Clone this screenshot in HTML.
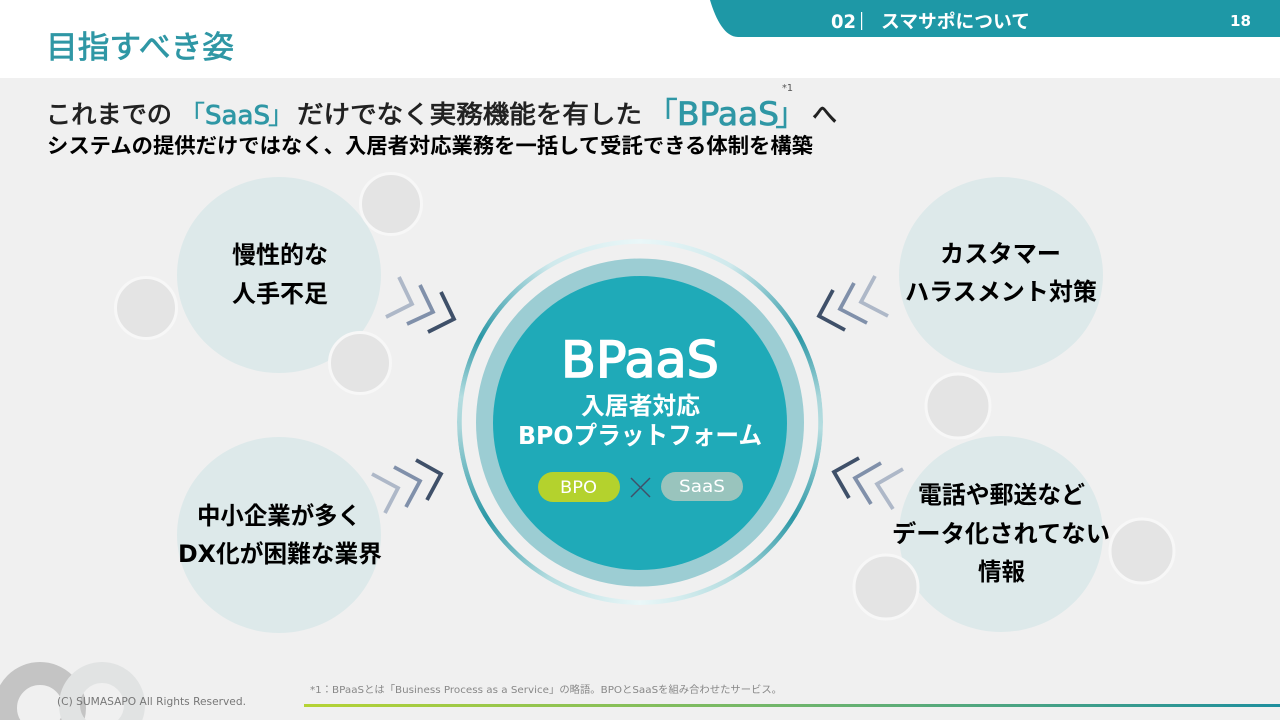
<!DOCTYPE html>
<html lang="ja"><head><meta charset="utf-8"><title>目指すべき姿</title>
<style>
html,body{margin:0;padding:0;width:1280px;height:720px;overflow:hidden;background:#f0f0f0}
#ring{position:absolute;left:457px;top:239px;width:366px;height:366px;border-radius:50%;
background:conic-gradient(from 0deg,#eaf7f8 0deg,#cfe9ec 30deg,#2c98a6 62deg,#a9d6da 82deg,#b5dde0 92deg,#2c98a6 122deg,#b5dde0 150deg,#eaf7f8 180deg,#b5dde0 210deg,#2c98a6 238deg,#a9d6da 268deg,#b5dde0 278deg,#2c98a6 298deg,#cfe9ec 330deg,#eaf7f8 360deg);
-webkit-mask:radial-gradient(circle,transparent 178px,#000 178.5px);mask:radial-gradient(circle,transparent 178px,#000 178.5px)}
svg{position:absolute;left:0;top:0}
text{font-family:"DejaVu Sans","Noto Sans CJK JP",sans-serif}
.b{font-weight:700;fill:#000;font-size:24px}
.w{font-weight:700;fill:#fff}
.t{fill:#2f97a5;stroke:#2f97a5;stroke-width:.8px}
.k{fill:#222;stroke:#222;stroke-width:.8px}
</style></head><body>
<svg width="1280" height="720" viewBox="0 0 1280 720">
<defs><linearGradient id="fl" x1="0" x2="1" y1="0" y2="0"><stop offset="0" stop-color="#b5d334"/><stop offset=".5" stop-color="#6fb56c"/><stop offset="1" stop-color="#1e8f9e"/></linearGradient></defs>
<rect width="1280" height="78" fill="#fff"/>
<path d="M710 0C716 20 725 37 738 37L1280 37L1280 0Z" fill="#1e98a6"/>
<text x="831" y="28" class="w" font-size="19" textLength="25" lengthAdjust="spacingAndGlyphs">02</text>
<rect x="861" y="12" width="1.2" height="18" fill="#fff"/>
<text x="881" y="28" class="w" font-size="18.5" textLength="149" lengthAdjust="spacingAndGlyphs">スマサポについて</text>
<text x="1230" y="26" class="w" font-size="15" textLength="21" lengthAdjust="spacingAndGlyphs">18</text>
<text x="46" y="58" class="t" font-size="31" textLength="188" lengthAdjust="spacingAndGlyphs">目指すべき姿</text>

<text x="782" y="91" font-size="9.5" fill="#555" textLength="11" lengthAdjust="spacingAndGlyphs">*1</text>
<text x="46" y="123" class="k" font-size="25" textLength="126" lengthAdjust="spacingAndGlyphs">これまでの</text>
<text x="179" y="124" class="t" font-size="26" style="stroke-width:.2px">「</text>
<text x="205" y="124" class="t" font-size="26" textLength="65" lengthAdjust="spacingAndGlyphs">SaaS</text>
<text x="268" y="124" class="t" font-size="26" style="stroke-width:.2px">」</text>
<text x="297" y="123" class="k" font-size="25" textLength="345" lengthAdjust="spacingAndGlyphs">だけでなく実務機能を有した</text>
<text x="646" y="125" class="t" font-size="32" style="stroke-width:.2px">「</text>
<text x="677" y="125" class="t" font-size="32" textLength="102" lengthAdjust="spacingAndGlyphs">BPaaS</text>
<text x="775" y="125" class="t" font-size="32" style="stroke-width:.2px">」</text>
<text x="812" y="123" class="k" font-size="25" textLength="25" lengthAdjust="spacingAndGlyphs">へ</text>
<text x="47" y="153" font-weight="700" fill="#000" font-size="21" textLength="766" lengthAdjust="spacingAndGlyphs">システムの提供だけではなく、入居者対応業務を一括して受託できる体制を構築</text>

<g fill="#dde9ea">
<ellipse cx="279" cy="275" rx="102" ry="98"/>
<ellipse cx="1001" cy="275" rx="102" ry="98"/>
<ellipse cx="279" cy="535" rx="102" ry="98"/>
<ellipse cx="1001" cy="534" rx="102" ry="98"/>
</g>
<g fill="#e4e4e4" stroke="#f7f7f7" stroke-width="3">
<circle cx="391" cy="204" r="30.5"/>
<circle cx="146" cy="308" r="30.5"/>
<circle cx="360" cy="363" r="30.5"/>
<circle cx="958" cy="406" r="32"/>
<circle cx="1142" cy="551" r="32"/>
<circle cx="886" cy="587" r="32"/>
</g>

<g fill="none" stroke-width="3.8" stroke-linejoin="miter" transform="translate(-1,0)">
<polyline points="400,277 413,304 387,317" stroke="#aeb8c8"/>
<polyline points="421,285 434,312 408,324" stroke="#8090aa"/>
<polyline points="442,292 455,319 429,332" stroke="#3f5069"/>
<polyline points="373,474 399,488 386,513" stroke="#aeb8c8"/>
<polyline points="395,467 421,481 407,507" stroke="#8090aa"/>
<polyline points="417,460 442,474 428,500" stroke="#3f5069"/>
</g>
<g fill="none" stroke-width="3.8" stroke-linejoin="miter" transform="translate(1,0)">
<polyline points="874,276 860,302 887,316" stroke="#aeb8c8"/>
<polyline points="853,283 839,309 866,323" stroke="#8090aa"/>
<polyline points="832,290 818,316 844,330" stroke="#3f5069"/>
<polyline points="902,469 876,484 892,509" stroke="#aeb8c8"/>
<polyline points="880,463 854,478 870,504" stroke="#8090aa"/>
<polyline points="858,458 833,472 848,498" stroke="#3f5069"/>
</g>

<circle cx="640" cy="422.5" r="164" fill="#9ccdd3"/>
<circle cx="640" cy="423" r="147" fill="#1faab8"/>
<text x="561" y="377" font-size="50" fill="#fff" stroke="#fff" stroke-width="1.6" textLength="158" lengthAdjust="spacingAndGlyphs">BPaaS</text>
<text x="581" y="414" class="w" font-size="24" textLength="119" lengthAdjust="spacingAndGlyphs">入居者対応</text>
<text x="518" y="444" class="w" font-size="25" textLength="244" lengthAdjust="spacingAndGlyphs">BPOプラットフォーム</text>
<rect x="538" y="472" width="82" height="30" rx="15" fill="#b4d22d"/>
<rect x="661" y="472" width="82" height="29" rx="14.5" fill="#99c4bd"/>
<text x="560" y="493" font-size="17" fill="#fff" textLength="37" lengthAdjust="spacingAndGlyphs">BPO</text>
<text x="679" y="492" font-size="17" fill="#fff" textLength="46" lengthAdjust="spacingAndGlyphs">SaaS</text>
<path d="M631 478L650 497M650 478L631 497" stroke="#3f5069" stroke-width="1.5" fill="none"/>

<text x="232" y="263" class="b" textLength="96" lengthAdjust="spacingAndGlyphs">慢性的な</text>
<text x="232" y="302" class="b" textLength="96" lengthAdjust="spacingAndGlyphs">人手不足</text>
<text x="940" y="262" class="b" textLength="121" lengthAdjust="spacingAndGlyphs">カスタマー</text>
<text x="905" y="300" class="b" textLength="192" lengthAdjust="spacingAndGlyphs">ハラスメント対策</text>
<text x="197" y="524" class="b" textLength="164" lengthAdjust="spacingAndGlyphs">中小企業が多く</text>
<text x="178" y="562" class="b" textLength="204" lengthAdjust="spacingAndGlyphs">DX化が困難な業界</text>
<text x="918" y="503" class="b" textLength="167" lengthAdjust="spacingAndGlyphs">電話や郵送など</text>
<text x="892" y="542" class="b" textLength="218" lengthAdjust="spacingAndGlyphs">データ化されてない</text>
<text x="978" y="580" class="b" textLength="47" lengthAdjust="spacingAndGlyphs">情報</text>

<g fill="none">
<circle cx="40" cy="708" r="34.5" stroke="#c4c4c4" stroke-width="23"/>
<circle cx="102" cy="705" r="32.5" stroke="#e1e3e3" stroke-width="21"/>
</g>
<text x="57" y="705" font-size="11" fill="#777" textLength="189" lengthAdjust="spacingAndGlyphs">(C)  SUMASAPO All Rights Reserved.</text>
<text x="310" y="693" font-size="10" fill="#888" textLength="472" lengthAdjust="spacingAndGlyphs">*1：BPaaSとは「Business Process as a Service」の略語。BPOとSaaSを組み合わせたサービス。</text>
<rect x="304" y="704" width="976" height="3" fill="url(#fl)"/>
</svg>
<div id="ring"></div>
</body></html>
